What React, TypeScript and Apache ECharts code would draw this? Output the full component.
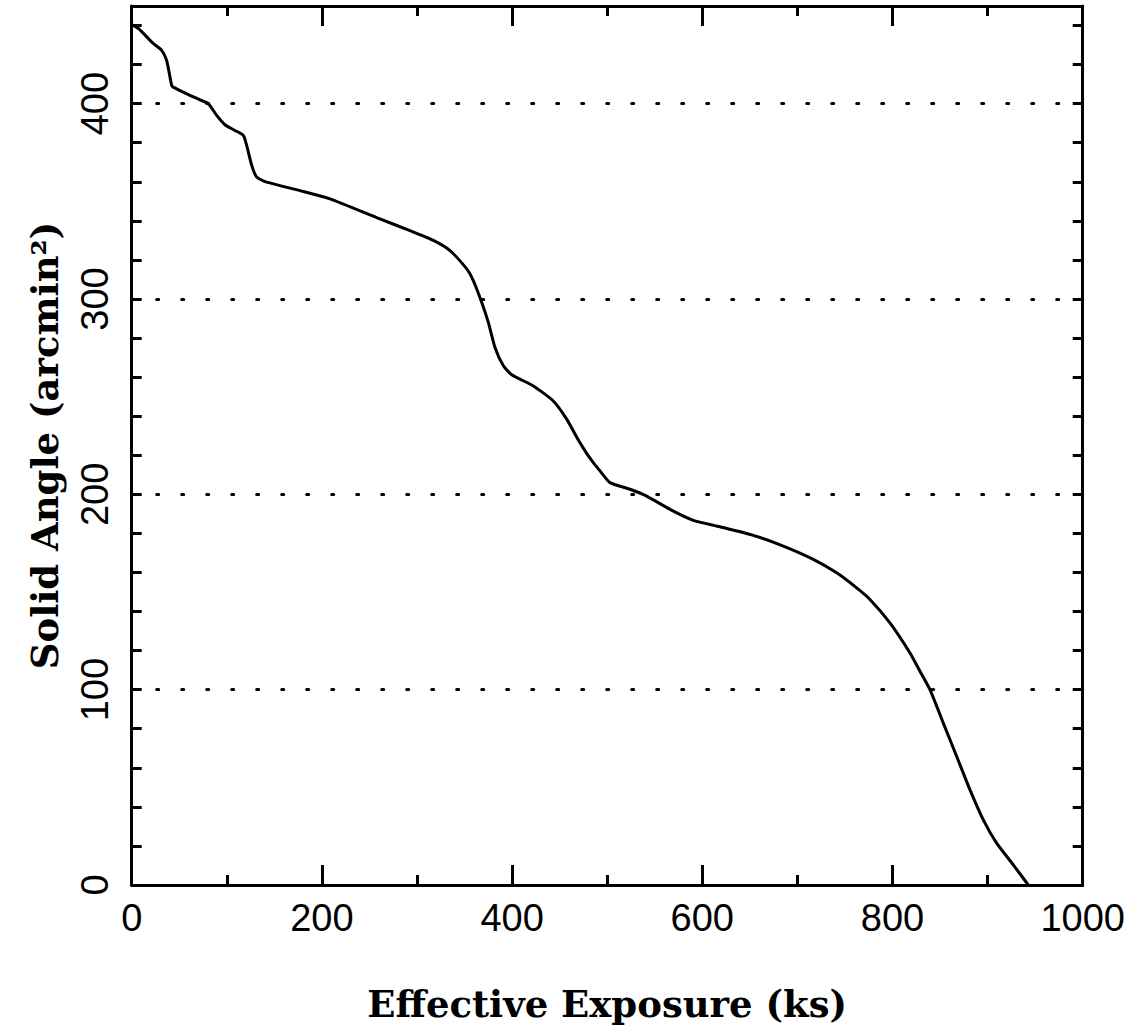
import React, { useEffect, useRef } from "react";
import * as echarts from "echarts";

const exposureKs = [
  0, 7, 22.7, 31.5, 36.8, 42, 43.7, 61.3, 78.9, 82.3, 89.4, 98.1, 108.6, 117.4, 120.9,
  126.2, 131.4, 142, 177, 208.5, 261, 292.6, 317.2, 334.7, 352.3, 359.2, 368, 375, 382,
  390.8, 399.6, 422.3, 443.3, 457.4, 470, 478.4, 485.4, 492.4, 502.9, 524, 541.5, 566,
  590.5, 618.6, 653.6, 685.2, 716.7, 741.3, 762.3, 776.3, 797.3, 818.4, 828.9, 839.4,
  853.4, 867.5, 881.5, 895.5, 909.5, 927, 942.8,
];
const solidAngle = [
  440.5, 438.5, 430.8, 427.3, 422, 409.4, 408.5, 404.3, 400.5, 399, 394, 389.2, 386.3,
  383.8, 378.6, 368.4, 362.4, 359.8, 355.5, 351.3, 341, 335, 330, 324.8, 315.4, 309.4,
  298.3, 288, 275.2, 265.8, 261.2, 255.5, 247.8, 238.5, 227.5, 221, 216.2, 212, 206, 202.6,
  199.1, 192.3, 186.7, 183.4, 179, 173.5, 166.7, 159.8, 152.1, 146.2, 134.2, 118.8,
  109.4, 100, 82.9, 65.8, 48.7, 33.3, 21.4, 10.3, 0,
];
const gridLevels = [100, 200, 300, 400];

const xTitle = "Effective Exposure (ks)";
const yTitle = "Solid Angle (arcmin\u00B2)";

export default function App() {
  const ref = useRef<HTMLDivElement>(null);
  useEffect(() => {
    if (!ref.current) return;
    const chart = echarts.init(ref.current, undefined, { renderer: "svg" });
    const black = "#000";
    const labelFont = "'Liberation Sans', Arial, sans-serif";
    const titleFont = "'DejaVu Serif', serif";
    const lineStyle = { color: black, width: 3 };
    const xCommon = {
      type: "value" as const,
      min: 0,
      max: 1000,
      interval: 200,
      axisLine: { show: true, onZero: false, lineStyle },
      axisTick: { show: true, inside: true, length: 20, lineStyle },
      minorTick: { show: true, splitNumber: 2, length: 10, lineStyle },
      splitLine: { show: false },
      minorSplitLine: { show: false },
    };
    const yCommon = {
      type: "value" as const,
      min: 0,
      max: 450,
      interval: 20,
      axisLine: { show: true, onZero: false, lineStyle },
      axisTick: { show: true, inside: true, length: 10, lineStyle },
      splitLine: { show: false },
    };
    const titleStyle = { fontFamily: titleFont, fontWeight: "bold", fontSize: 37, color: black };
    chart.setOption({
      animation: false,
      backgroundColor: "#fff",
      grid: { left: 131.7, right: 56.3, top: 6, bottom: 148, containLabel: false },
      xAxis: [
        {
          ...xCommon,
          position: "bottom",
          name: xTitle,
          nameLocation: "middle",
          nameGap: 100,
          nameTextStyle: titleStyle,
          axisLabel: {
            show: true,
            margin: 14,
            fontFamily: labelFont,
            fontSize: 38,
            color: black,
            formatter: (v: number) => String(v),
          },
        },
        { ...xCommon, position: "top", axisLabel: { show: false } },
      ],
      yAxis: [
        {
          ...yCommon,
          position: "left",
          name: yTitle,
          nameLocation: "middle",
          nameGap: 68,
          nameTextStyle: titleStyle,
          axisLabel: {
            show: true,
            rotate: 90,
            margin: 18,
            showMaxLabel: false,
            fontFamily: labelFont,
            fontSize: 38,
            color: black,
            formatter: (v: number) => (v % 100 === 0 ? String(v) : ""),
          },
        },
        { ...yCommon, position: "right", axisLabel: { show: false } },
      ],
      series: [
        {
          type: "line",
          xAxisIndex: 0,
          yAxisIndex: 0,
          data: exposureKs.map((x, i) => [x, solidAngle[i]]),
          symbol: "none",
          smooth: 0.2,
          lineStyle: { color: black, width: 3, join: "round", cap: "round" },
          markLine: {
            silent: true,
            symbol: "none",
            label: { show: false },
            lineStyle: { color: black, width: 3, type: [2, 23], cap: "round" },
            data: gridLevels.map((v) => ({ yAxis: v })),
          },
        },
      ],
    });
    return () => chart.dispose();
  }, []);
  return (
    <div
      ref={ref}
      style={{ position: "fixed", left: 0, top: 0, width: 1139, height: 1033, background: "#fff" }}
    />
  );
}
